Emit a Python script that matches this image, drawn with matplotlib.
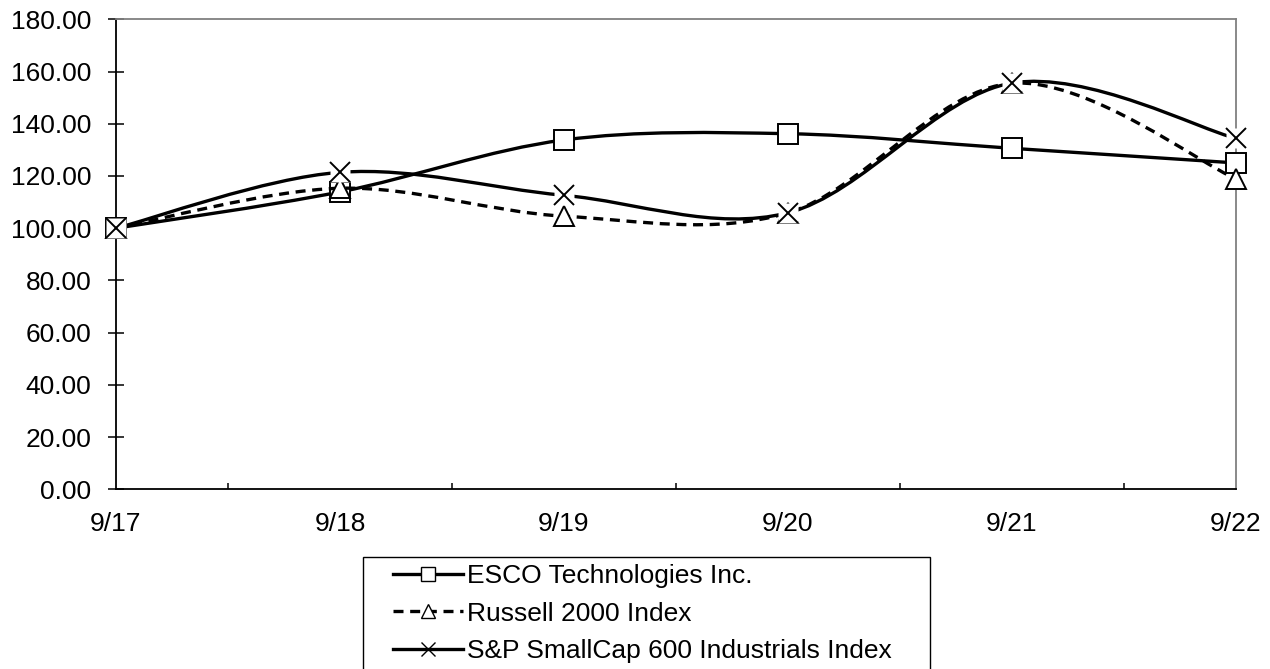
import matplotlib.pyplot as plt
import numpy as np
from matplotlib.path import Path
from matplotlib.patches import PathPatch, Rectangle
from matplotlib.lines import Line2D

# data (cumulative total return, base 100)
years = ['9/17', '9/18', '9/19', '9/20', '9/21', '9/22']
esco = [100.00, 113.9, 133.8, 136.2, 130.6, 125.0]
russell = [100.00, 115.3, 104.6, 105.9, 155.5, 118.9]
sp600 = [100.00, 121.4, 112.6, 105.9, 155.6, 134.4]

plt.rcParams['font.family'] = ['Liberation Sans', 'DejaVu Sans']
plt.rcParams['font.size'] = 19


def smooth_path(xs, ys):
    # Excel-like smoothed line: cubic Bezier through every point
    pts = np.column_stack([xs, ys]).astype(float)
    n = len(pts)
    verts = [pts[0]]
    codes = [Path.MOVETO]
    for i in range(n - 1):
        p0 = pts[i - 1] if i > 0 else pts[i]
        p1 = pts[i]
        p2 = pts[i + 1]
        p3 = pts[i + 2] if i + 2 < n else pts[i + 1]
        c1 = p1 + (p2 - p0) / 6.0
        c2 = p2 - (p3 - p1) / 6.0
        verts += [c1, c2, p2]
        codes += [Path.CURVE4] * 3
    return Path(verts, codes)


W, H = 1270, 669
fig = plt.figure(figsize=(W / 100, H / 100), dpi=100)
ax = fig.add_axes([0.0913, 0.2686, 0.8819, 0.7025])

x = np.arange(len(years))
dash = (0, (3, 2))

series = [
    (esco, '-', 's', 'ESCO Technologies Inc.'),
    (russell, '--', '^', 'Russell 2000 Index'),
    (sp600, '-', 'x', 'S&P SmallCap 600 Industrials Index'),
]

handles = []
for k, (vals, ls, mk, name) in enumerate(series):
    patch = PathPatch(smooth_path(x, vals), fill=False, edgecolor='black',
                      lw=2.4, linestyle=dash if ls == '--' else '-',
                      zorder=2 + 2 * k, clip_on=False)
    ax.add_patch(patch)
    if mk == 'x':
        ax.plot(x, vals, linestyle='none', marker='s', markersize=14,
                markerfacecolor='white', markeredgecolor='none',
                zorder=3 + 2 * k, clip_on=False)
        ax.plot(x, vals, linestyle='none', marker='x', markersize=15,
                markeredgewidth=1.4, color='black', zorder=3.5 + 2 * k,
                clip_on=False)
    else:
        ms = 15 if mk == 's' else 14
        ax.plot(x, vals, linestyle='none', marker=mk, markersize=ms,
                markerfacecolor='white', markeredgecolor='black',
                markeredgewidth=1.4, zorder=3 + 2 * k, clip_on=False)
    handles.append(Line2D([], [], color='black', lw=2.4,
                          linestyle=dash if ls == '--' else '-',
                          marker=mk, markersize=9.5, markerfacecolor='white',
                          markeredgecolor='black', markeredgewidth=1.0,
                          label=name))

ax.set_xlim(0, len(years) - 1)
ax.set_ylim(0, 180)
ax.set_yticks(np.arange(0, 181, 20))
ax.set_yticklabels([f'{v:.2f}' for v in np.arange(0, 181, 20)])
ax.set_xticks(x)
ax.set_xticklabels(years)
ax.set_xticks(x[:-1] + 0.5, minor=True)

ax.tick_params(axis='y', direction='inout', length=11.5, width=1.1, pad=12)
ax.tick_params(axis='x', which='major', length=0, pad=16)
ax.tick_params(axis='x', which='minor', direction='in', length=4.5, width=1.1)

for side in ['left', 'bottom']:
    ax.spines[side].set_color('black')
    ax.spines[side].set_linewidth(1.3)
for side in ['top', 'right']:
    ax.spines[side].set_color('#808080')
    ax.spines[side].set_linewidth(1.3)

# legend box runs off the bottom of the picture
fig.patches.append(Rectangle((363 / W, -0.05), 567 / W, 0.05 + 1 - 557 / H,
                             transform=fig.transFigure, fill=False,
                             edgecolor='black', lw=1.0))
fig.legend(handles=handles, loc='upper left',
           bbox_to_anchor=(393 / W, 1 - 564 / H),
           frameon=False, handlelength=2.65, handletextpad=0.15,
           labelspacing=0.52, borderpad=0, borderaxespad=0, fontsize=19)

fig.savefig('out.png', dpi=100)
